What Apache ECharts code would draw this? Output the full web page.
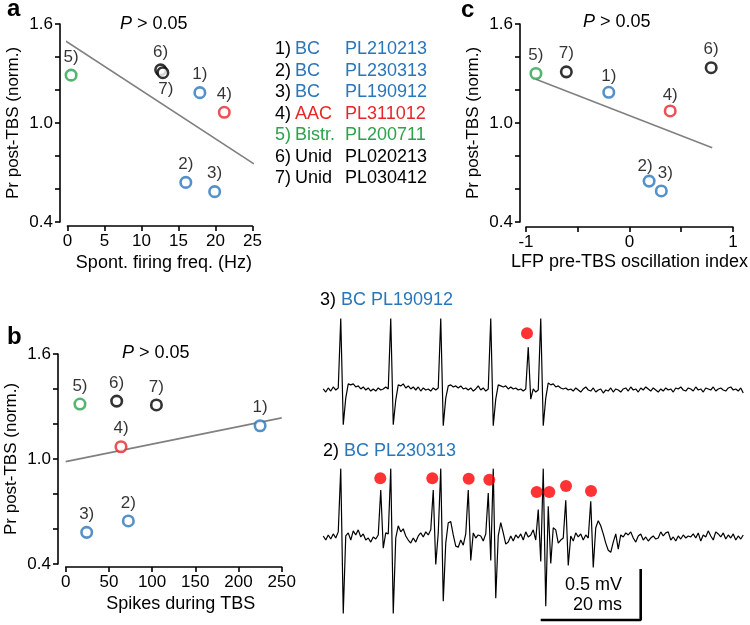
<!DOCTYPE html>
<html><head><meta charset="utf-8">
<script src="https://cdn.jsdelivr.net/npm/echarts@6/dist/echarts.min.js"></script>
<style>html,body{margin:0;padding:0;background:#fff}#c{width:750px;height:625px}</style>
</head><body><div id="c"></div>
<script>
// ---------- data ----------
const cellIds   = ['1)','2)','3)','4)','5)','6)','7)'];
const cellTypes = ['BC','BC','BC','AAC','Bistr.','Unid','Unid'];
const cellNames = ['PL210213','PL230313','PL190912','PL311012','PL200711','PL020213','PL030412'];
const cellGroup = ['blue','blue','blue','red','green','black','black'];

// panel a: spontaneous firing frequency (Hz) vs Pr post-TBS
const spontFreqHz = [17.9, 16.0, 19.9, 21.2, 0.5, 12.6, 12.9];
const prPostA     = [1.184, 0.640, 0.584, 1.065, 1.290, 1.322, 1.305];
const fitA        = [[-0.46, 1.503], [25.2, 0.752]];

// panel b: spikes during TBS vs Pr post-TBS
const spikesTBS   = [225, 72.5, 24.3, 64, 16.5, 59, 105];
const prPostB     = [1.19, 0.646, 0.581, 1.07, 1.314, 1.331, 1.309];
const fitB        = [[0, 0.985], [250, 1.235]];

// panel c: LFP pre-TBS oscillation index vs Pr post-TBS
const oscIndex    = [-0.20, 0.19, 0.308, 0.394, -0.904, 0.79, -0.61];
const prPostC     = [1.186, 0.648, 0.588, 1.073, 1.30, 1.335, 1.31];
const fitC        = [[-0.904, 1.265], [0.80, 0.85]];

// tick labels
const prTickLabels  = [0.4, 1.0, 1.6];
const oscTickLabels = [-1, 0, 1];

// extracellular traces (mV), sampled every 0.5 ms starting at 0.65 ms
const traceStartMs = 0.65;
const traceStepMs  = 0.5;
const trace3mV = [
 0.01,-0.02,0.02,-0.01,0.03,0.00,0.02,
 0.70,-0.34,-0.08,0.06,0.05,0.06,0.03,0.04,0.01,0.03,0.00,0.02,-0.01,0.01,-0.01,0.02,0.00,0.01,0.03,0.01,
 0.70,-0.34,-0.10,0.05,0.04,0.06,0.02,0.04,0.01,0.03,0.00,0.03,-0.01,0.02,0.00,0.01,-0.01,0.02,0.00,0.02,
 0.70,-0.35,-0.08,0.04,0.05,0.03,0.04,0.02,0.04,0.01,0.02,0.00,0.02,-0.01,0.01,0.04,0.00,0.02,-0.01,0.01,
 0.70,-0.35,-0.09,0.05,0.04,0.03,0.04,0.01,0.03,0.01,0.02,0.00,0.01,-0.01,0.01,0.42,-0.09,0.01,-0.02,0.00,
 0.70,-0.35,-0.08,0.07,0.05,0.06,0.03,0.04,0.02,0.01,0.02,0.00,
 0.01,-0.01,0.02,0.00,-0.02,0.01,0.03,0.00,-0.01,0.02,
 -0.02,0.00,0.01,-0.03,0.00,-0.01,0.02,-0.02,0.01,0.00,
 -0.02,0.01,0.02,-0.01,0.03,0.00,0.01,-0.02,0.02,0.00,
 0.03,0.01,-0.01,0.02,0.00,-0.02,0.01,-0.01,0.02,0.00,
 0.01,-0.02,0.02,0.01,0.03,0.00,-0.01,0.02,0.01,-0.01,
 0.03,0.00,0.01,-0.02,0.02,0.01,0.00,0.03,-0.01,0.01,
 0.02,0.00,-0.01,0.02,0.03,0.00,0.01,-0.01,0.02,-0.03
];
const trace2mV = [
 0.02,-0.02,0.03,-0.01,0.04,0.00,0.06,
 0.68,-0.74,0.02,0.05,-0.02,0.07,0.03,0.08,0.01,0.04,-0.02,0.00,-0.04,0.01,-0.01,0.03,0.47,-0.10,0.05,0.04,
 0.68,-0.74,0.00,0.12,0.06,0.09,0.02,-0.02,-0.05,0.00,-0.04,0.02,0.05,0.01,0.06,0.03,0.08,0.47,-0.26,0.05,
 0.68,-0.62,-0.05,0.15,0.16,0.03,-0.08,-0.09,-0.02,-0.07,0.04,0.47,-0.22,0.05,0.00,0.03,0.02,-0.03,0.04,0.44,
 -0.22,0.68,-0.59,0.02,0.15,0.05,-0.06,-0.04,0.02,-0.03,0.03,0.00,0.04,-0.02,0.06,0.01,0.03,0.08,-0.02,0.28,
 -0.23,0.68,-0.67,0.31,-0.25,0.10,0.08,-0.05,-0.02,0.00,0.37,-0.27,0.02,-0.03,0.05,0.01,0.04,-0.02,0.03,0.00,
 0.36,-0.29,0.10,0.17,0.12,0.04,-0.05,-0.12,-0.14,-0.04,0.04,-0.11,0.03,0.01,0.05,0.03,0.06,0.00,-0.04,0.02,
 0.04,-0.02,0.01,-0.03,0.00,0.02,-0.01,0.00,0.06,0.02,
 0.05,0.06,-0.02,0.01,-0.03,0.02,-0.01,0.03,0.00,0.02,
 0.01,0.04,0.00,0.05,-0.03,0.03,0.01,0.07,0.02,-0.02,
 0.06,0.04,0.01,0.05,-0.01,0.03,0.00,0.04,-0.02,0.02,
 -0.01,0.03
];
// marked (red dot) spikes [ms, mV]
const trace3Dots = [[41.4, 0.556]];
const trace2Dots = [[12.06,0.585],[22.46,0.585],[29.74,0.58],[33.86,0.57],[43.34,0.45],[45.86,0.45],[49.2,0.51],[54.2,0.46]];
// scale bar: 20 ms x 0.5 mV
const scaleBar = [[44.14,-0.804],[64.14,-0.804],[64.14,-0.304]];

// ---------- styles ----------
const FONT = '"Liberation Sans", Arial, sans-serif';
const palette = {blue:'#2a76bb', red:'#e8262a', green:'#2ba34c', black:'#000000'};
const colorOf = i => palette[cellGroup[i]];

const axLine = {onZero:false, lineStyle:{color:'#000', width:1.6}};
const axTick = {length:5, lineStyle:{color:'#000', width:1.6}};
const axLabel = {color:'#000', fontSize:17, fontFamily:FONT, margin:7};
const prFmt = v => prTickLabels.some(t => Math.abs(t - v) < 1e-9) ? v.toFixed(1) : '';
const oscFmt = v => oscTickLabels.some(t => Math.abs(t - v) < 1e-9) ? String(Math.round(v)) : '';

function prAxis(gridIndex, offset){
  return {type:'value', gridIndex, min:0.4, max:1.6, interval:0.2, offset,
    axisLine:axLine, axisTick:axTick, axisLabel:Object.assign({formatter:prFmt}, axLabel),
    splitLine:{show:false},
    name:'Pr post-TBS (norm.)', nameLocation:'middle', nameGap:38,
    nameTextStyle:{color:'#000', fontSize:17, fontFamily:FONT}};
}
function xAxisDef(gridIndex, min, max, interval, offset, name, nameGap, shift, fmt){
  return {type:'value', gridIndex, min, max, interval, offset,
    axisLine:axLine, axisTick:axTick, axisLabel:Object.assign(fmt?{formatter:fmt}:{}, axLabel),
    splitLine:{show:false},
    name, nameLocation:'middle', nameGap,
    nameTextStyle:{color:'#000', fontSize:18, fontFamily:FONT, padding:[0,0,0,shift]}};
}
function scatterSeries(xs, ys, idx, overrides){
  return {type:'scatter', xAxisIndex:idx, yAxisIndex:idx, symbol:'circle', symbolSize:10.5, z:4,
    data: xs.map((x,i)=>({value:[x, ys[i]],
      itemStyle:{color:'#fff', borderColor:colorOf(i), borderWidth:2.6},
      label:Object.assign({show:true, formatter:cellIds[i], position:'top', distance:3,
        color:'#000', fontSize:17, fontFamily:FONT}, overrides[i]||{})}))};
}
function fitSeries(pts, idx){
  return {type:'line', xAxisIndex:idx, yAxisIndex:idx, data:pts, showSymbol:false, clip:false,
    lineStyle:{color:'#808080', width:1.6}, z:2, silent:true};
}
const traceData = arr => arr.map((v,i)=>[traceStartMs + i*traceStepMs, v]);
const hiddenAxis = (gridIndex, min, max) => ({type:'value', gridIndex, min, max, show:false});

// legend graphic
const legendGraphics = [];
cellIds.forEach((id,i)=>{
  const y = 49.5 + i*21.5;
  const c = colorOf(i);
  legendGraphics.push({type:'text', x:275, y, style:{text:id, fill: cellGroup[i]==='green'?c:'#000', font:'18px '+FONT, verticalAlign:'middle'}});
  legendGraphics.push({type:'text', x:295, y, style:{text:cellTypes[i], fill:c, font:'18px '+FONT, verticalAlign:'middle'}});
  legendGraphics.push({type:'text', x:345, y, style:{text:cellNames[i], fill:c, font:'18px '+FONT, verticalAlign:'middle'}});
});
function pText(x, y){
  return {type:'text', x, y, style:{text:'{i|P} > 0.05', font:'18px '+FONT, fill:'#000', verticalAlign:'middle',
    rich:{i:{fontStyle:'italic', fontSize:18, fontFamily:FONT, fill:'#000'}}}};
}
function letter(t, x, y){
  return {type:'text', x, y, style:{text:t, font:'bold 24px '+FONT, fill:'#000', verticalAlign:'middle'}};
}
function traceLabel(x, y, id, name){
  return {type:'text', x, y, style:{text:'{k|'+id+'} {b|'+name+'}', font:'18px '+FONT, verticalAlign:'middle',
    rich:{k:{fill:'#000', fontSize:18, fontFamily:FONT}, b:{fill:palette.blue, fontSize:18, fontFamily:FONT}}}};
}

const option = {
  animation:false,
  backgroundColor:'#fff',
  textStyle:{fontFamily:FONT},
  grid:[
    {left:67.4, top:24, width:185, height:198},
    {left:65.7, top:354, width:216, height:210},
    {left:526, top:24, width:209, height:198},
    {left:320, top:308.4, width:425, height:132.6},
    {left:320, top:456.4, width:425, height:168.3}
  ],
  xAxis:[
    xAxisDef(0, 0, 25, 5, 4, 'Spont. firing freq. (Hz)', 28, 8),
    xAxisDef(1, 0, 250, 50, 3, 'Spikes during TBS', 28, 14),
    xAxisDef(2, -1, 1, 0.5, 5, 'LFP pre-TBS oscillation index', 26, 0, oscFmt),
    hiddenAxis(3, 0, 85),
    hiddenAxis(4, 0, 85)
  ],
  yAxis:[
    prAxis(0, 7.4),
    prAxis(1, 7.7),
    prAxis(2, 6),
    hiddenAxis(3, -0.5, 0.8),
    hiddenAxis(4, -0.85, 0.8)
  ],
  series:[
    fitSeries(fitA, 0),
    scatterSeries(spontFreqHz, prPostA, 0, {6:{position:'bottom', distance:2, offset:[3,0]}}),
    fitSeries(fitB, 1),
    scatterSeries(spikesTBS, prPostB, 1, {}),
    fitSeries(fitC, 2),
    scatterSeries(oscIndex, prPostC, 2, {1:{offset:[-4,3]}, 2:{offset:[4,0]}, 3:{offset:[0,2]}, 0:{offset:[0,2]}}),
    {type:'line', xAxisIndex:3, yAxisIndex:3, data:traceData(trace3mV), showSymbol:false,
      lineStyle:{color:'#000', width:1.2}, silent:true},
    {type:'line', xAxisIndex:4, yAxisIndex:4, data:traceData(trace2mV), showSymbol:false,
      lineStyle:{color:'#000', width:1.2}, silent:true},
    {type:'scatter', xAxisIndex:3, yAxisIndex:3, data:trace3Dots, symbolSize:12, itemStyle:{color:'#ff0000'}, z:5},
    {type:'scatter', xAxisIndex:4, yAxisIndex:4, data:trace2Dots, symbolSize:12, itemStyle:{color:'#ff0000'}, z:5},
    {type:'line', xAxisIndex:4, yAxisIndex:4, data:scaleBar, showSymbol:false, clip:false,
      lineStyle:{color:'#000', width:2.6}, silent:true}
  ],
  graphic:[
    letter('a', 7, 9), letter('b', 7, 337), letter('c', 461, 10),
    pText(120, 24), pText(122, 353), pText(583, 22),
    traceLabel(320, 300, '3)', 'BC PL190912'),
    traceLabel(323, 451, '2)', 'BC PL230313'),
    {type:'text', x:622, y:585, style:{text:'0.5 mV', font:'18px '+FONT, fill:'#000', align:'right', verticalAlign:'middle'}},
    {type:'text', x:622, y:605, style:{text:'20 ms', font:'18px '+FONT, fill:'#000', align:'right', verticalAlign:'middle'}}
  ].concat(legendGraphics)
};
const chart = echarts.init(document.getElementById('c'), null, {renderer:'canvas'});
chart.setOption(option);
</script>
</body></html>
